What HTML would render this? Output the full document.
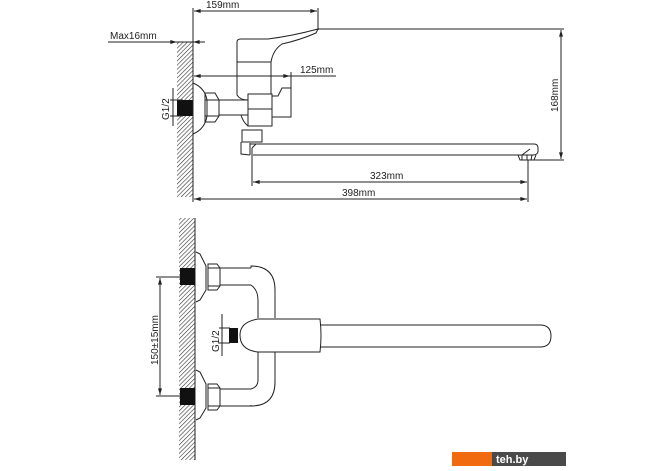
<!DOCTYPE html>
<html><head><style>
html,body{margin:0;padding:0;background:#fff;width:670px;height:471px;overflow:hidden}
svg{display:block}
text{font-family:"Liberation Sans",sans-serif;fill:#222;font-size:10px}
</style></head><body>
<svg width="670" height="471" viewBox="0 0 670 471">
<defs>
<pattern id="h" width="3" height="3" patternUnits="userSpaceOnUse" patternTransform="rotate(45)">
<rect width="3" height="3" fill="#fff"/><line x1="0" y1="0" x2="0" y2="3" stroke="#333" stroke-width="1.2"/>
</pattern>
<marker id="a" viewBox="0 0 10 6" refX="10" refY="3" markerWidth="8" markerHeight="4" orient="auto-start-reverse"><path d="M0,0L10,3L0,6z" fill="#222"/></marker>
</defs>
<g stroke="#222" stroke-width="1" fill="none">
<rect x="177" y="42" width="16" height="155" fill="url(#h)" stroke="none"/>
<rect x="177" y="100" width="16" height="16" fill="#111" stroke="none"/>
<line x1="193" y1="8" x2="193" y2="202"/>
<line x1="318" y1="8" x2="318" y2="30"/>
<line x1="194" y1="11" x2="317" y2="11" marker-start="url(#a)" marker-end="url(#a)"/>
<line x1="108" y1="42" x2="205" y2="42"/>
<path d="M170,42 L177,42" marker-end="url(#a)"/>
<path d="M203,42 L193,42" marker-end="url(#a)"/>
<line x1="318" y1="29" x2="564" y2="29"/>
<line x1="561" y1="30" x2="561" y2="159" marker-start="url(#a)" marker-end="url(#a)"/>
<line x1="530" y1="160" x2="564" y2="160"/>
<path d="M237,62 L237,42 Q237,39 241,39 L268,39 Q292,36 318,29 L316,33 Q300,40 282,44 Q273,50 271,62 Z"/>
<path d="M237,62 L237,95 Q240,100 248,100 M271,62 L271,94"/>
<line x1="194" y1="76" x2="290" y2="76" marker-start="url(#a)" marker-end="url(#a)"/>
<line x1="290" y1="76" x2="336" y2="76"/>
<line x1="291" y1="72" x2="291" y2="117"/>
<path d="M193,83 Q205,88 207,100 L207,116 Q205,129 193,134"/>
<path d="M205,93 L215,93 L219,100 L219,116 L215,122 L205,122 Z M205,100 L219,100 M205,116 L219,116"/>
<path d="M219,100 L248,100 M219,115 L248,115 M241,115 Q243,122 248,126"/>
<rect x="248" y="94" width="24" height="32"/>
<line x1="248" y1="109" x2="272" y2="109"/>
<path d="M272,96 L278,96 L282,88 L291,88 L291,117 L272,117"/>
<path d="M242,130 L262,130 L262,142 L242,142 Z"/>
<path d="M241,142 L241,154 L250,155 M250,143 L250,155"/>
<path d="M250,144 L534,144 Q538,144 538,148 L538,152 Q537,155 533,155 L253,155 M252,148 L256,144"/>
<path d="M518,155 L520,160 L534,160 L536,155 M522,160 L522,155 M527,155 L527,160 M532,155 L531,160 M522,155 L530,149"/>
<line x1="252" y1="148" x2="252" y2="186"/>
<line x1="528" y1="160" x2="528" y2="202"/>
<line x1="253" y1="182" x2="527" y2="182" marker-start="url(#a)" marker-end="url(#a)"/>
<line x1="194" y1="199" x2="527" y2="199" marker-start="url(#a)" marker-end="url(#a)"/>
<line x1="173" y1="88" x2="173" y2="126"/>
<line x1="170" y1="100" x2="183" y2="100"/>
<line x1="170" y1="116" x2="183" y2="116"/>
<rect x="179" y="218" width="16" height="242" fill="url(#h)" stroke="none"/>
<line x1="195" y1="218" x2="195" y2="460"/>
<rect x="180" y="268" width="15" height="17" fill="#111" stroke="none"/>
<rect x="180" y="388" width="15" height="17" fill="#111" stroke="none"/>
<path d="M196,252 L200,254 L206,266 L206,290 L200,300 L196,302"/>
<path d="M196,370 L200,372 L206,384 L206,408 L200,418 L196,420"/>
<path d="M208,264 L217,264 L220,268 L220,286 L217,290 L208,290 Z M208,268 L220,268 M208,286 L220,286"/>
<path d="M208,384 L217,384 L220,388 L220,406 L217,410 L208,410 Z M208,388 L220,388 M208,406 L220,406"/>
<path d="M220,268 L251,268 M220,285 L251,285 M220,389 L251,389 M220,406 L251,406"/>
<path d="M251,268 L251,266 Q275,266 275,290 L275,318 M275,352 L275,382 Q275,406 251,406 L251,405"/>
<path d="M251,285 Q258,290 258,300 L258,318 M258,352 L258,380 Q258,387 251,389"/>
<path d="M320,319 L258,319 Q240,322 240,335 Q240,350 258,352 L320,352 Q322,335 320,319 Z"/>
<path d="M320,325 L540,325 Q551,325 551,336 Q551,347 540,347 L320,347"/>
<rect x="229" y="328" width="9" height="15" fill="#111" stroke="none"/>
<line x1="222" y1="314" x2="222" y2="356"/>
<line x1="219" y1="328" x2="230" y2="328"/>
<line x1="219" y1="343" x2="230" y2="343"/>
<line x1="156" y1="277" x2="180" y2="277"/>
<line x1="156" y1="396" x2="180" y2="396"/>
<line x1="160" y1="278" x2="160" y2="395" marker-start="url(#a)" marker-end="url(#a)"/>
</g>
<text x="206" y="8">159mm</text>
<text x="110" y="39" font-size="9.5">Max16mm</text>
<text x="300" y="73">125mm</text>
<text x="370" y="179">323mm</text>
<text x="342" y="196">398mm</text>
<text transform="translate(558,112) rotate(-90)">168mm</text>
<text transform="translate(169,120) rotate(-90)" font-size="9.5">G1/2</text>
<text transform="translate(219,352) rotate(-90)" font-size="9.5">G1/2</text>
<text transform="translate(158,365) rotate(-90)">150±15mm</text>
<rect x="452" y="452" width="40" height="14" fill="#f26a10"/>
<rect x="492" y="452" width="74" height="14" fill="#4a4a4a"/>
<text x="496" y="463" style="fill:#fff;font-size:11px;font-weight:bold">teh.by</text>
</svg>
</body></html>
